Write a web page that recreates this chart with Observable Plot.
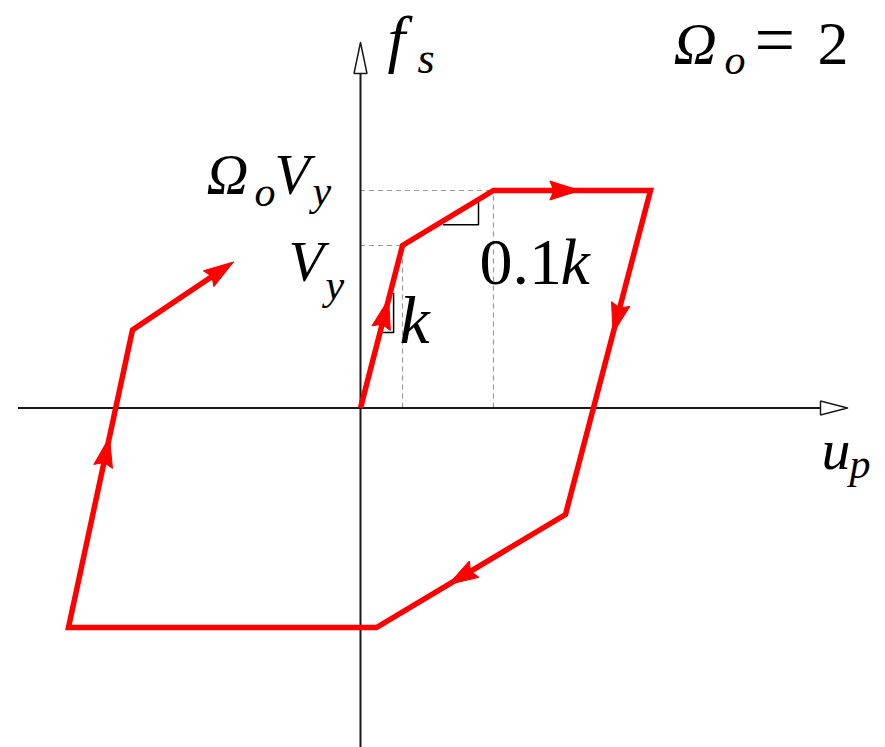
<!DOCTYPE html>
<html>
<head>
<meta charset="utf-8">
<script src="https://cdn.jsdelivr.net/npm/d3@7"></script>
<script src="https://cdn.jsdelivr.net/npm/@observablehq/plot@0.6"></script>
<style>
  html, body { margin: 0; padding: 0; background: #fff; }
</style>
</head>
<body>
<div id="chart"></div>
<script>
// Hysteresis loop: restoring force f_s against plastic displacement u_p
// (drawing units: 1 unit of u or f = 1 px on screen)
const loopU = [0, 42, 133, 290, 205, 16, -292, -228, -127];
const loopF = [0, 162.5, 217.5, 217.5, -106.5, -219.5, -219.5, 78, 146];

// direction arrowheads: segment index and fraction along that segment
const arrowSeg = [0, 2, 3, 4, 6, 7];
const arrowAt = [0.67, 0.55, 0.44, 0.62, 0.64, 1];

// yield point V_y and overstrength point Ω_o V_y
const yieldU = 42, yieldF = 162.5;
const peakU = 133, peakF = 217.5;

// axis extents
const uAxis = [-342, 487];
const fAxis = [-339.5, 365.5];

const RED = "#ff0000";
const SERIF = "Liberation Serif";

const loop = loopU.map((u, i) => ({u, f: loopF[i]}));

// arrowhead polygon (filled), tip at (tu, tf), pointing along (du, df)
const HEAD_LEN = 30, HEAD_HALF = 9.5, HEAD_NOTCH = 4;
function head(id, tu, tf, du, df, len, half, notch) {
  const n = Math.hypot(du, df); du /= n; df /= n;
  const pu = -df, pf = du;
  const bu = tu - du * len, bf = tf - df * len;
  const pts = [
    [tu, tf],
    [bu + pu * half, bf + pf * half],
    [tu - du * (len - notch), tf - df * (len - notch)],
    [bu - pu * half, bf - pf * half],
    [tu, tf]
  ];
  return pts.map(([u, f]) => ({id, u, f}));
}

const heads = [];
arrowSeg.forEach((s, i) => {
  const a = loop[s], b = loop[s + 1], t = arrowAt[i];
  heads.push(...head(i, a.u + (b.u - a.u) * t, a.f + (b.f - a.f) * t,
                     b.u - a.u, b.f - a.f, HEAD_LEN, HEAD_HALF, HEAD_NOTCH));
});

// the loop line stops under the final arrowhead
const drawn = loop.slice();
{
  const a = loop[loop.length - 2], b = loop[loop.length - 1];
  const L = Math.hypot(b.u - a.u, b.f - a.f), back = HEAD_LEN - HEAD_NOTCH - 1;
  drawn[drawn.length - 1] = {u: b.u - (b.u - a.u) / L * back, f: b.f - (b.f - a.f) / L * back};
}

// open arrowheads at the ends of the axes
function openHead(id, tu, tf, du, df, len, half) {
  const n = Math.hypot(du, df); du /= n; df /= n;
  const pu = -df, pf = du, bu = tu - du * len, bf = tf - df * len;
  return [[tu, tf], [bu + pu * half, bf + pf * half], [bu - pu * half, bf - pf * half], [tu, tf]]
    .map(([u, f]) => ({id, u, f}));
}
const axisHeads = [
  ...openHead("u", uAxis[1], 0, 1, 0, 27, 7),
  ...openHead("f", 0, fAxis[1], 0, 1, 31, 6.5)
];

// slope triangles on the elastic (k) and hardening (0.1k) branches
const hardSlope = (peakF - yieldF) / (peakU - yieldU);
const hardF = u => yieldF + (u - yieldU) * hardSlope;
const hu1 = 83, hu2 = 118;
const hardTri = [
  {u: hu1, f: hardF(hu1) - 4}, {u: hu2, f: hardF(hu1) - 4}, {u: hu2, f: hardF(hu2) - 3}
];
const elasU = f => f * yieldU / yieldF;
const kf1 = 75.5, kf2 = 114.5;
const kTri = [
  {u: elasU(kf1) + 1.5, f: kf1}, {u: elasU(kf2) + 3.5, f: kf1}, {u: elasU(kf2) + 3.5, f: kf2}
];

// text pieces: main symbols and their subscripts
const labels = [
  {t: "f",   u: 27,   f: 348.5, size: 64, it: true},
  {t: "s",   u: 57,   f: 335.5, size: 44, it: true},
  {t: "Ω",   u: 313,  f: 344.5, size: 60, it: true},
  {t: "o",   u: 364,  f: 334.5, size: 42, it: true},
  {t: "=",   u: 394,  f: 344.5, size: 72, it: false},
  {t: "2",   u: 457,  f: 344.5, size: 62, it: false},
  {t: "Ω",   u: -154, f: 214.5, size: 58, it: true},
  {t: "o",   u: -106, f: 202.5, size: 42, it: true},
  {t: "V",   u: -86,  f: 214.5, size: 58, it: true},
  {t: "y",   u: -48,  f: 203.5, size: 42, it: true},
  {t: "V",   u: -72,  f: 127.5, size: 58, it: true},
  {t: "y",   u: -35,  f: 109.5, size: 42, it: true},
  {t: "0.1", u: 119,  f: 124.5, size: 66, it: false},
  {t: "k",   u: 200,  f: 124.5, size: 66, it: true},
  {t: "k",   u: 39,   f: 65.5,  size: 68, it: true},
  {t: "u",   u: 461,  f: -60.5, size: 58, it: true},
  {t: "p",   u: 489,  f: -69.5, size: 42, it: true}
];

const textMarks = labels.map(d => Plot.text([d], {
  x: "u", y: "f", text: "t",
  textAnchor: "start", lineAnchor: "bottom",
  fontSize: d.size, fontFamily: SERIF, fontStyle: d.it ? "italic" : "normal",
  fill: "#000"
}));

const guide = {stroke: "#9a9a9a", strokeWidth: 1.2, strokeDasharray: "5,4"};

const chart = Plot.plot({
  width: 885,
  height: 747,
  margin: 0,
  x: {domain: [-360, 525], axis: null},
  y: {domain: [-339.5, 407.5], axis: null},
  marks: [
    // dashed guides to V_y and Ω_o V_y
    Plot.ruleY([yieldF], {x1: 0, x2: yieldU, ...guide}),
    Plot.ruleY([peakF], {x1: 0, x2: peakU, ...guide}),
    Plot.ruleX([yieldU], {y1: 0, y2: yieldF, ...guide}),
    Plot.ruleX([peakU], {y1: 0, y2: peakF, ...guide}),
    // axes
    Plot.ruleY([0], {x1: uAxis[0], x2: uAxis[1] - 27, stroke: "#1a1a1a", strokeWidth: 2}),
    Plot.ruleX([0], {y1: fAxis[0], y2: fAxis[1] - 31, stroke: "#1a1a1a", strokeWidth: 2}),
    Plot.line(axisHeads, {x: "u", y: "f", z: "id", fill: "#fff", stroke: "#1a1a1a", strokeWidth: 1.5, strokeLinejoin: "miter"}),
    // slope triangles
    Plot.line(hardTri, {x: "u", y: "f", stroke: "#000", strokeWidth: 1.5}),
    Plot.line(kTri, {x: "u", y: "f", stroke: "#000", strokeWidth: 1.5}),
    // loading path
    Plot.line(drawn, {x: "u", y: "f", stroke: RED, strokeWidth: 5.5, strokeLinejoin: "miter", strokeLinecap: "butt", strokeMiterlimit: 10}),
    Plot.line(heads, {x: "u", y: "f", z: "id", fill: RED, stroke: RED, strokeWidth: 1, strokeLinejoin: "miter"}),
    ...textMarks
  ]
});

// serif math lettering on every label
d3.select(chart).selectAll("text").style("font-family", "'Liberation Serif', serif");
d3.select(chart).style("overflow", "visible");

document.getElementById("chart").appendChild(chart);
</script>
</body>
</html>
